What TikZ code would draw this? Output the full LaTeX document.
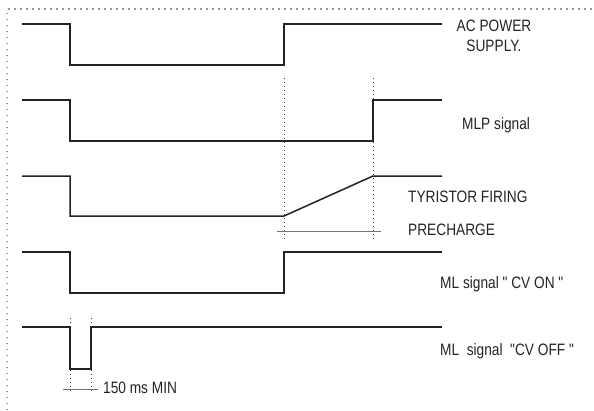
\documentclass[tikz,border=0pt]{standalone}
\usepackage{fontspec}
\newfontfamily\narrowsans{Liberation Sans}[FakeStretch=0.83]
\usepackage{tikz}
\usetikzlibrary{positioning, calc}
\definecolor{sigdark}{RGB}{35,35,35}
\definecolor{framegray}{RGB}{150,150,150}
\tikzset{
  sigline/.style={line width=1.5pt,color=sigdark,line join=miter},
  guideline/.style={line width=0.9pt,color=black!75,dash pattern=on 1pt off 3pt},
  frameline/.style={line width=1.1pt,color=framegray,dash pattern=on 1.5pt off 4.5pt},
  refline/.style={line width=1pt,color=black!55},
  siglabel/.style={inner sep=0pt,anchor=base west,text=sigdark,font=\narrowsans\fontsize{16.5}{20}\selectfont}
}

\begin{document}
\begin{tikzpicture}[x=1pt,y=-1pt]
  \useasboundingbox (0,0) rectangle (594,410);
  % frame
  \draw[frameline] (7,410) -- (7,9) -- (594,9);

  % guides
  \draw[guideline] (284,78) -- (284,239);
  \draw[guideline] (373,78) -- (373,239);
  \draw[guideline] (70,318) -- (70,393);
  \draw[guideline] (91,318) -- (91,393);
  \draw[refline] (277,231) -- (381,231);
  \draw[refline] (63,389) -- (98,389);

  % AC power supply
  \draw[sigline] (22,24) -- (70,24) -- (70,65) -- (284,65) -- (284,24) -- (442,24);
  % MLP signal
  \draw[sigline] (22,100) -- (70,100) -- (70,141) -- (373,141) -- (373,100) -- (442,100);
  % tyristor firing
  \draw[sigline] (22,176) -- (70,176) -- (70,216) -- (284,216) -- (373,176) -- (442,176);
  % CV ON
  \draw[sigline] (22,252) -- (70,252) -- (70,293) -- (284,293) -- (284,252) -- (442,252);
  % CV OFF
  \draw[sigline] (22,327) -- (70,327) -- (70,369) -- (91,369) -- (91,327) -- (442,327);

  % labels
  \node[siglabel,anchor=base] (ac1) at (494,31) {AC POWER};
  \node[siglabel,anchor=base] (ac2) at (494,51) {SUPPLY.};
  \node[siglabel] (mlp) at (462,129) {MLP signal};
  \node[siglabel] (tyr) at (408,202) {TYRISTOR FIRING};
  \node[siglabel] (pre) at (408,235.5) {PRECHARGE};
  \node[siglabel] (cvon) at (440,288) {ML signal " CV ON "};
  \node[siglabel] (cvoff) at (440,355) {ML\ \ signal\ \ "CV OFF\ "};
  \node[siglabel] (mintime) at (103,393.5) {150 ms MIN};
\end{tikzpicture}
\end{document}
